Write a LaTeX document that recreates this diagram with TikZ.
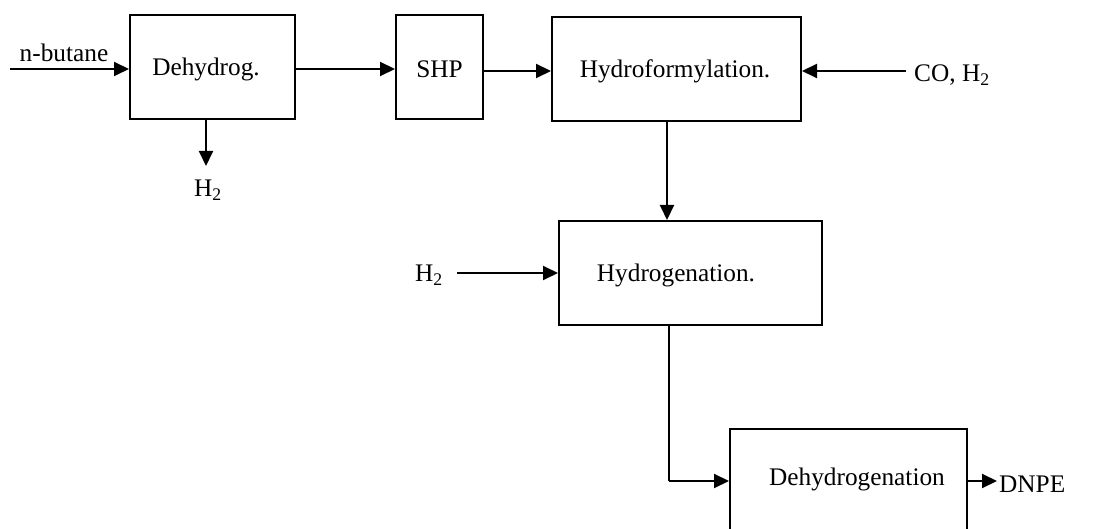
\documentclass[tikz,border=0pt]{standalone}
\usepackage{fontspec}
\setmainfont{Liberation Serif}
\usetikzlibrary{arrows.meta}
\begin{document}
\begin{tikzpicture}[x=1pt,y=-1pt,
  box/.style={draw,line width=2pt,inner sep=0pt,minimum width=#1},
  lbl/.style={font=\fontsize{25.3}{30}\selectfont,inner sep=0pt},
  flow/.style={line width=2pt,-{Triangle[length=15pt,width=14pt]}},
  pipe/.style={line width=2pt}]
\useasboundingbox (0,0) rectangle (1106,529);
\clip (0,0) rectangle (1106,529);
% boxes
\node[box=165pt,minimum height=104pt] (dehyd) at (212.5,67) {};
\node[box=87pt,minimum height=104pt] (shp) at (439.5,67) {};
\node[box=249pt,minimum height=104pt] (hyf) at (676.5,69) {};
\node[box=263pt,minimum height=104pt] (hyg) at (690.5,273) {};
\node[box=237pt,minimum height=104pt] (dhg) at (848.5,481) {};
% box texts
\node[lbl] (tdehyd) at (206,69) {Dehydrog.};
\node[lbl] (tshp) at (439.5,69) {SHP};
\node[lbl] (thyf) at (675,71) {Hydroformylation.};
\node[lbl] (thyg) at (676,275) {Hydrogenation.};
\node[lbl] (tdhg) at (857,479) {Dehydrogenation};
% outer labels
\node[lbl,anchor=base] (nbut) at (64,61.5) {n-butane};
\node[lbl,anchor=base] (h2a) at (208,197) {H\textsubscript{2}};
\node[lbl,anchor=base west] (coh2) at (914,82) {CO, H\textsubscript{2}};
\node[lbl,anchor=base west] (h2b) at (415,282) {H\textsubscript{2}};
\node[lbl,anchor=base west] (dnpe) at (999,492) {DNPE};
% connector end points
\coordinate (nbs) at (10,69);
\coordinate (h2end) at (206,166);
\coordinate (cos) at (906,71);
\coordinate (h2s) at (457,273);
\coordinate (bend) at (669,481);
\coordinate (dnpeend) at (997,481);
% connectors
\draw[flow] (nbs) -- (nbs -| dehyd.west);
\draw[flow] (dehyd.south -| h2end) -- (h2end);
\draw[flow] (dehyd.east |- 0,69) -- (shp.west |- 0,69);
\draw[flow] (shp.east |- 0,71) -- (hyf.west |- 0,71);
\draw[flow] (cos) -- (cos -| hyf.east);
\draw[flow] (667,0 |- hyf.south) -- (667,0 |- hyg.north);
\draw[flow] (h2s) -- (h2s -| hyg.west);
\draw[pipe] (bend |- hyg.south) -- (bend);
\draw[flow] (bend) -- (bend -| dhg.west);
\draw[flow] (dhg.east |- dnpeend) -- (dnpeend);
\end{tikzpicture}
\end{document}
